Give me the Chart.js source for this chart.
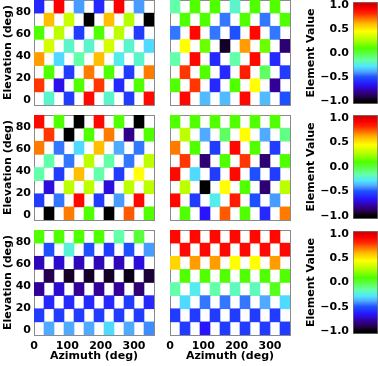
<!DOCTYPE html>
<html>
<head>
<meta charset="utf-8">
<script src="https://cdn.jsdelivr.net/npm/chart.js@4.4.1/dist/chart.umd.min.js"></script>
<style>
  html, body { margin: 0; padding: 0; background: #fff; }
  #wrap { position: relative; width: 378px; height: 366px; overflow: hidden; }
  #wrap canvas { position: absolute; left: 0; top: 0; }
</style>
</head>
<body>
<div id="wrap">
  <canvas id="pA" width="378" height="366"></canvas>
  <canvas id="pB" width="378" height="366"></canvas>
  <canvas id="pC" width="378" height="366"></canvas>
  <canvas id="pD" width="378" height="366"></canvas>
  <canvas id="pE" width="378" height="366"></canvas>
  <canvas id="pF" width="378" height="366"></canvas>
  <canvas id="cb1" width="378" height="366"></canvas>
  <canvas id="cb2" width="378" height="366"></canvas>
  <canvas id="cb3" width="378" height="366"></canvas>
</div>
<script>
// bin centres / edges and tick labels
const azimuthCenters = [15, 45, 75, 105, 135, 165, 195, 225, 255, 285, 315, 345];
const elevationEdges = [-4, 7.875, 19.75, 31.625, 43.5, 55.375, 67.25, 79.125, 91];
const xTicks = [0, 100, 200, 300];
const yTicks = [0, 20, 40, 60, 80];
const cbTicks = [-1, -0.5, 0, 0.5, 1];

// element values, rows listed from top (high elevation) to bottom; null = empty cell
const panelA = [
  [-0.6, null, 0.92, null, -0.4, null, -0.6, null, 0.92, null, -0.4, null],
  [null, 0.6, null, 0.33, null, -1.0, null, 0.6, null, 0.28, null, -1.0],
  [0.1, null, 0.3, null, -0.55, null, 0.1, null, 0.3, null, -0.55, null],
  [null, 0.35, null, -0.2, null, -0.2, null, 0.35, null, -0.2, null, -0.3],
  [0.65, null, -0.3, null, -0.15, null, 0.6, null, -0.25, null, -0.2, null],
  [null, 0.1, null, -0.55, null, 0.7, null, 0.1, null, -0.55, null, 0.7],
  [0.8, null, -0.68, null, 0.1, null, 0.8, null, -0.6, null, 0.1, null],
  [null, -0.2, null, -0.55, null, 0.9, null, -0.2, null, -0.55, null, 0.9]
];
const panelB = [
  [-0.15, null, 0.1, null, 0.1, null, -0.2, null, 0.1, null, 0.1, null],
  [null, 0.1, null, 0.1, null, -0.45, null, 0.1, null, -0.45, null, 0.1],
  [-0.45, null, 0.9, null, -0.45, null, -0.5, null, 0.9, null, -0.45, null],
  [null, 0.45, null, 0.15, null, -0.95, null, 0.65, null, 0.15, null, -0.85],
  [-0.15, null, 0.9, null, -0.6, null, -0.15, null, 0.9, null, -0.6, null],
  [null, 0.8, null, 0.1, null, -0.6, null, 0.85, null, -0.05, null, -0.55],
  [0.1, null, 0.8, null, -0.6, null, 0.1, null, 0.45, null, -0.8, null],
  [null, 0.9, null, -0.35, null, -0.35, null, 0.9, null, -0.35, null, -0.5]
];
const panelC = [
  [0.9, null, 0.1, null, -1.0, null, 0.9, null, 0.1, null, -1.0, null],
  [null, 0.8, null, -1.0, null, 0.1, null, 0.7, null, -0.82, null, 0.1],
  [0.7, null, -0.45, null, -0.3, null, 0.6, null, -0.38, null, -0.45, null],
  [null, -0.15, null, -0.45, null, 0.3, null, -0.15, null, -0.45, null, 0.3],
  [-0.15, null, -0.55, null, 0.6, null, -0.15, null, -0.55, null, 0.45, null],
  [null, -0.7, null, 0.3, null, 0.3, null, -0.7, null, 0.3, null, 0.3],
  [-0.55, null, -0.45, null, 0.9, null, -0.55, null, -0.4, null, 0.9, null],
  [null, -1.0, null, 0.7, null, 0.1, null, -1.0, null, 0.75, null, 0.1]
];
const panelD = [
  [0.1, null, 0.1, null, 0.1, null, 0.1, null, 0.1, null, 0.1, null],
  [null, 0.3, null, -0.38, null, -0.05, null, 0.45, null, -0.38, null, -0.1],
  [0.7, null, 0.1, null, -0.55, null, 0.9, null, 0.1, null, -0.55, null],
  [null, 0.8, null, -0.85, null, 0.1, null, 0.8, null, -0.85, null, 0.1],
  [0.9, null, -0.3, null, -0.55, null, 0.9, null, -0.5, null, -0.55, null],
  [null, 0.3, null, -1.0, null, 0.45, null, 0.1, null, -0.85, null, 0.3],
  [0.9, null, -0.55, null, -0.25, null, 0.85, null, -0.5, null, -0.4, null],
  [null, 0.1, null, -0.65, null, 0.75, null, 0.1, null, -0.6, null, 0.7]
];
const panelE = [
  [0.1, null, 0.1, null, 0.1, null, 0.1, null, -0.15, null, 0.0, null],
  [null, -0.5, null, -0.22, null, -0.5, null, -0.55, null, -0.5, null, -0.4],
  [-0.75, null, -0.72, null, -0.75, null, -0.75, null, -0.75, null, -0.7, null],
  [null, -0.9, null, -0.95, null, -0.95, null, -0.95, null, -0.97, null, -0.93],
  [-0.8, null, -0.72, null, -0.8, null, -0.8, null, -0.8, null, -0.85, null],
  [null, -0.6, null, -0.6, null, -0.6, null, -0.6, null, -0.55, null, -0.6],
  [-0.55, null, -0.55, null, -0.55, null, -0.55, null, -0.55, null, -0.55, null],
  [null, -0.38, null, -0.38, null, -0.38, null, -0.3, null, -0.38, null, -0.42]
];
const panelF = [
  [0.9, null, 0.9, null, 0.9, null, 0.9, null, 0.9, null, 0.9, null],
  [null, 0.9, null, 0.9, null, 0.9, null, 0.9, null, 0.9, null, 0.9],
  [0.55, null, 0.65, null, 0.65, null, 0.45, null, 0.45, null, 0.65, null],
  [null, 0.1, null, 0.1, null, 0.1, null, 0.1, null, 0.1, null, 0.1],
  [-0.15, null, -0.25, null, -0.15, null, -0.18, null, -0.18, null, 0.05, null],
  [null, -0.3, null, -0.45, null, -0.45, null, -0.45, null, -0.38, null, -0.3],
  [-0.55, null, -0.55, null, -0.55, null, -0.55, null, -0.55, null, -0.55, null],
  [null, -0.55, null, -0.65, null, -0.55, null, -0.55, null, -0.55, null, -0.55]
];

// rainbow colour table (value, r, g, b)
const cmapStops = [
  [-1.00, 0, 0, 0],
  [-0.90, 40, 0, 80],
  [-0.80, 50, 0, 150],
  [-0.65, 40, 20, 255],
  [-0.50, 30, 80, 255],
  [-0.38, 80, 170, 255],
  [-0.28, 80, 230, 255],
  [-0.15, 100, 255, 170],
  [0.00, 90, 255, 60],
  [0.10, 80, 255, 0],
  [0.28, 180, 255, 0],
  [0.45, 255, 255, 0],
  [0.60, 255, 190, 0],
  [0.72, 255, 110, 0],
  [0.82, 255, 40, 0],
  [0.92, 255, 0, 0],
  [1.00, 215, 0, 0]
];

function cmap(v) {
  v = Math.max(-1, Math.min(1, v));
  for (let i = 1; i < cmapStops.length; i++) {
    const a = cmapStops[i - 1], b = cmapStops[i];
    if (v <= b[0]) {
      const t = (v - a[0]) / (b[0] - a[0]);
      const c = [1, 2, 3].map(k => Math.round(a[k] + (b[k] - a[k]) * t));
      return 'rgb(' + c.join(',') + ')';
    }
  }
  return 'rgb(215,0,0)';
}

const W = 378, H = 366;
const frameColor = '#8a8a8a';
const tickFont = { family: 'DejaVu Sans', size: 11, weight: 'bold' };
const titleFont = { family: 'DejaVu Sans', size: 11, weight: 'bold' };

function cells(grid) {
  const out = [];
  grid.forEach((row, i) => {
    const r = grid.length - 1 - i;
    row.forEach((v, c) => {
      if (v === null) return;
      out.push({ x: azimuthCenters[c], y: [elevationEdges[r], elevationEdges[r + 1]], v: v });
    });
  });
  return out;
}

function frameAxis(position) {
  const horizontal = position === 'top' || position === 'bottom';
  return {
    type: 'linear', position: position, display: true,
    ticks: { display: false },
    grid: { display: false, drawTicks: false },
    border: { display: true, color: frameColor, width: 1 },
    afterFit: s => { if (horizontal) s.height = 0; else s.width = 0; s.paddingTop = s.paddingBottom = s.paddingLeft = s.paddingRight = 0; }
  };
}

function heatmap(id, grid, box) {
  const showX = box.xLabels, showY = box.yLabels;
  new Chart(document.getElementById(id), {
    type: 'bar',
    data: {
      datasets: [{
        data: cells(grid),
        backgroundColor: c => c.raw ? cmap(c.raw.v) : 'rgba(0,0,0,0)',
        borderWidth: 0,
        barPercentage: 1,
        categoryPercentage: 1
      }]
    },
    options: {
      responsive: false, animation: false, events: [],
      layout: {
        autoPadding: false,
        padding: { left: showY ? 0 : box.left, top: box.top, right: W - box.right, bottom: showX ? 0 : H - box.bottom }
      },
      plugins: { legend: { display: false }, tooltip: { enabled: false } },
      scales: {
        x: {
          type: 'linear', position: 'bottom', min: 0, max: 360, offset: false,
          afterBuildTicks: s => { s.ticks = xTicks.map(v => ({ value: v })); },
          afterFit: s => { s.height = showX ? H - box.bottom : 0; s.paddingLeft = s.paddingRight = 0; },
          grid: { display: false, drawTicks: false },
          border: { display: true, color: frameColor, width: 1 },
          ticks: { display: showX, padding: 5, color: '#000', font: tickFont, maxRotation: 0, autoSkip: false },
          title: { display: showX, text: 'Azimuth (deg)', color: '#000', font: titleFont, padding: { top: 0, bottom: 3 } }
        },
        y: {
          type: 'linear', position: 'left',
          min: elevationEdges[0], max: elevationEdges[elevationEdges.length - 1],
          afterBuildTicks: s => { s.ticks = yTicks.map(v => ({ value: v })); },
          afterFit: s => { s.width = showY ? box.left : 0; s.paddingTop = s.paddingBottom = 0; },
          grid: { display: false, drawTicks: false },
          border: { display: true, color: frameColor, width: 1 },
          ticks: { display: showY, padding: 3, color: '#000', font: tickFont },
          title: { display: showY, text: 'Elevation (deg)', color: '#000', font: titleFont, padding: { top: 2, bottom: 0 } }
        },
        x2: frameAxis('top'),
        y2: frameAxis('right')
      }
    }
  });
}

function colorbar(id, box) {
  new Chart(document.getElementById(id), {
    type: 'bar',
    data: {
      labels: ['Element Value'],
      datasets: [{
        data: [[-1.06, 1.06]],
        backgroundColor: c => {
          const ch = c.chart;
          if (!ch.chartArea) return '#888';
          const y = ch.scales.y;
          const g = ch.ctx.createLinearGradient(0, y.getPixelForValue(-1), 0, y.getPixelForValue(1));
          cmapStops.forEach(s => g.addColorStop((s[0] + 1) / 2, 'rgb(' + s[1] + ',' + s[2] + ',' + s[3] + ')'));
          return g;
        },
        borderColor: '#777',
        borderWidth: 1,
        borderSkipped: false,
        barPercentage: 1,
        categoryPercentage: 1
      }]
    },
    options: {
      responsive: false, animation: false, events: [],
      layout: { autoPadding: false, padding: { left: 300, top: box.top, right: W - box.right, bottom: H - box.bottom } },
      plugins: { legend: { display: false }, tooltip: { enabled: false } },
      scales: {
        x: { display: false },
        y: {
          type: 'linear', position: 'left', min: -1.06, max: 1.06,
          afterBuildTicks: s => { s.ticks = cbTicks.map(v => ({ value: v })); },
          afterFit: s => { s.width = box.left - 300; s.paddingTop = s.paddingBottom = 0; },
          grid: { display: false, drawTicks: false },
          border: { display: false },
          ticks: {
            padding: 4, color: '#000', font: tickFont,
            callback: v => v.toFixed(1).replace('-', '\u2212')
          },
          title: { display: true, text: 'Element Value', color: '#000', font: titleFont, padding: { top: 5, bottom: 0 } }
        }
      }
    }
  });
}

heatmap('pA', panelA, { left: 34, right: 154, top: 0, bottom: 105, yLabels: true, xLabels: false });
heatmap('pB', panelB, { left: 170, right: 290, top: 0, bottom: 105, yLabels: false, xLabels: false });
heatmap('pC', panelC, { left: 34, right: 154, top: 115, bottom: 220, yLabels: true, xLabels: false });
heatmap('pD', panelD, { left: 170, right: 290, top: 115, bottom: 220, yLabels: false, xLabels: false });
heatmap('pE', panelE, { left: 34, right: 154, top: 230, bottom: 335, yLabels: true, xLabels: true });
heatmap('pF', panelF, { left: 170, right: 290, top: 230, bottom: 335, yLabels: false, xLabels: true });

colorbar('cb1', { left: 353, right: 378, top: 2, bottom: 104 });
colorbar('cb2', { left: 353, right: 378, top: 115, bottom: 219 });
colorbar('cb3', { left: 353, right: 378, top: 231, bottom: 334 });
</script>
</body>
</html>
